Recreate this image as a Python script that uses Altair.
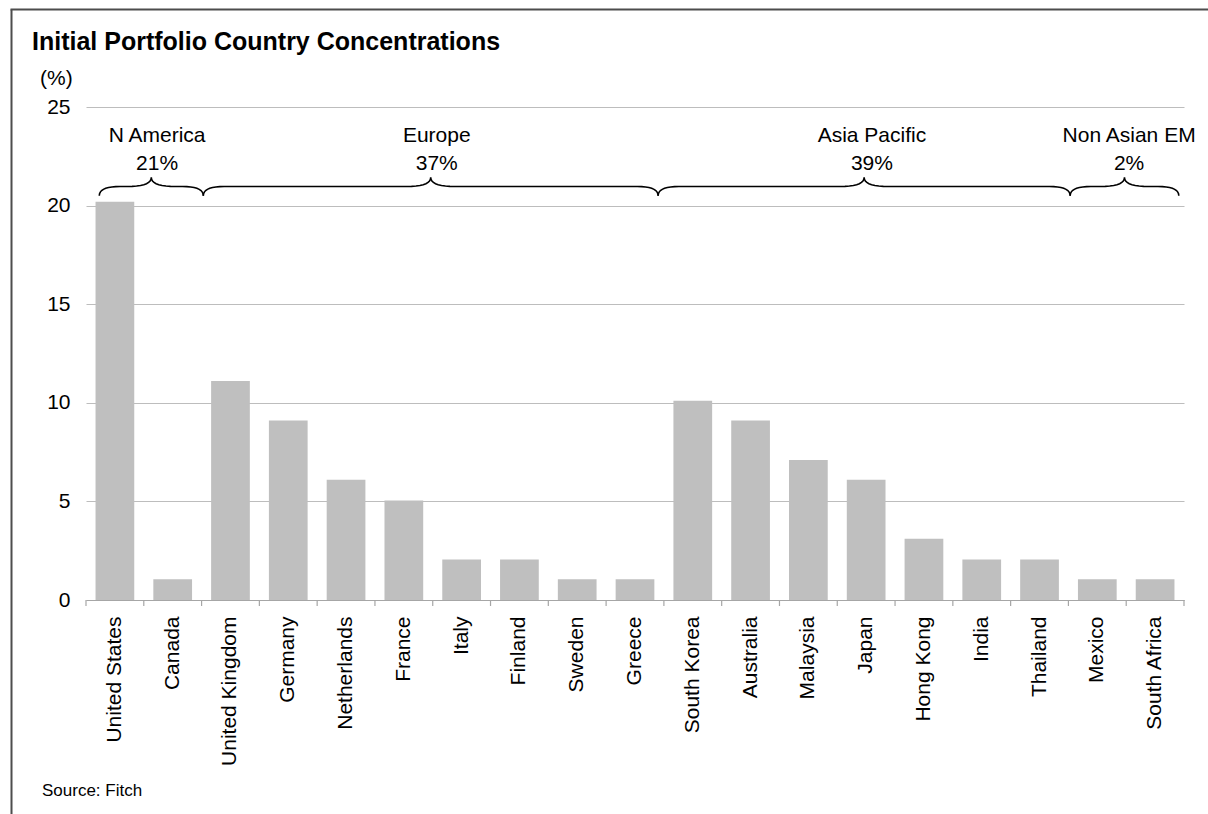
import altair as alt
import pandas as pd
import numpy as np

# ---------------- data ----------------
countries = ["United States", "Canada", "United Kingdom", "Germany", "Netherlands",
             "France", "Italy", "Finland", "Sweden", "Greece", "South Korea",
             "Australia", "Malaysia", "Japan", "Hong Kong", "India", "Thailand",
             "Mexico", "South Africa"]
values = [20.2, 1.05, 11.1, 9.1, 6.1, 5.05, 2.05, 2.05, 1.05, 1.05,
          10.1, 9.1, 7.1, 6.1, 3.1, 2.05, 2.05, 1.05, 1.05]

groups = ["N America", "Europe", "Asia Pacific", "Non Asian EM"]
group_pcts = ["21%", "37%", "39%", "2%"]
# brace extents in category-index units (0 = left edge of first band)
brace_start = [0.23, 2.03, 9.90, 17.03]
brace_end = [2.03, 9.90, 17.03, 18.91]
# label anchor positions (category-index units)
label_x = [1.23, 6.07, 13.6, 18.05]

title_text = "Initial Portfolio Country Concentrations"
unit_text = "(%)"
source_text = "Source: Fitch"
y_ticks = [0, 5, 10, 15, 20, 25]

# ---------------- styling ----------------
FONT = "Liberation Sans"
W, H = 1098, 493
BAR = "#bfbfbf"
GRID = "#bdbdbd"
AXIS = "#a6a6a6"

df = pd.DataFrame({"country": countries, "value": values})
n = len(countries)
xq = alt.Scale(domain=[0, n], nice=False, zero=False)
yscale = alt.Scale(domain=[0, 25], nice=False)

bars = alt.Chart(df).mark_bar(color=BAR).encode(
    x=alt.X("country:N", sort=countries,
            scale=alt.Scale(paddingInner=0.33, paddingOuter=0.165),
            axis=alt.Axis(title=None, labelAngle=-90, labelAlign="right",
                          labelBaseline="middle", labelFontSize=21, labelColor="black",
                          labelFont=FONT, ticks=False, labelPadding=16,
                          domainColor=AXIS, domainWidth=1.2, grid=False)),
    y=alt.Y("value:Q", scale=yscale,
            axis=alt.Axis(title=None, values=y_ticks, domain=False, ticks=False,
                          labelFontSize=21, labelColor="black", labelFont=FONT,
                          labelPadding=16, grid=True, gridColor=GRID, gridWidth=1.2)),
)

# tick marks at band boundaries
tick_df = pd.DataFrame({"pos": list(range(n + 1))})
ticks = alt.Chart(tick_df).mark_rule(color=AXIS, strokeWidth=1.2, y2Offset=6).encode(
    x=alt.X("pos:Q", scale=xq, axis=None),
    y=alt.datum(0),
    y2=alt.datum(0),
)

# braces
yE, yL, yT = 20.5, 20.97, 21.43
cE, cM = 0.36, 0.42


def quad(p0, p1, p2, k=10):
    t = np.linspace(0, 1, k)
    xs = (1 - t) ** 2 * p0[0] + 2 * (1 - t) * t * p1[0] + t ** 2 * p2[0]
    ys = (1 - t) ** 2 * p0[1] + 2 * (1 - t) * t * p1[1] + t ** 2 * p2[1]
    return list(zip(xs, ys))


rows = []
for g, s, e in zip(groups, brace_start, brace_end):
    m = (s + e) / 2
    pts = []
    pts += quad((s, yE), (s, yL), (s + cE, yL))
    pts += quad((m - cM, yL), (m, yL), (m, yT))
    pts += quad((m, yT), (m, yL), (m + cM, yL))
    pts += quad((e - cE, yL), (e, yL), (e, yE))
    for k, (bx, by) in enumerate(pts):
        rows.append({"group": g, "k": k, "bx": bx, "by": by})
brace_df = pd.DataFrame(rows)

braces = alt.Chart(brace_df).mark_line(color="black", strokeWidth=1.6).encode(
    x=alt.X("bx:Q", scale=xq, axis=None),
    y=alt.Y("by:Q", title=None),
    detail="group:N",
    order="k:Q",
)

lab_df = pd.DataFrame({"name": groups, "pct": group_pcts, "lx": label_x,
                       "y1": [23.23] * 4, "y2": [21.81] * 4})
names = alt.Chart(lab_df).mark_text(fontSize=21, font=FONT, color="black",
                                    baseline="alphabetic", align="center").encode(
    x=alt.X("lx:Q", scale=xq, axis=None), y=alt.Y("y1:Q", title=None), text="name:N")
pcts = alt.Chart(lab_df).mark_text(fontSize=21, font=FONT, color="black",
                                   baseline="alphabetic", align="center").encode(
    x=alt.X("lx:Q", scale=xq, axis=None), y=alt.Y("y2:Q", title=None), text="pct:N")

one = pd.DataFrame({"t": [title_text], "u": [unit_text], "s": [source_text]})
title = alt.Chart(one).mark_text(fontSize=25, fontWeight="bold", font=FONT, color="black",
                                 align="left", baseline="alphabetic").encode(
    x=alt.value(-54), y=alt.value(-57), text="t:N")
unit = alt.Chart(one).mark_text(fontSize=21, font=FONT, color="black",
                                align="left", baseline="alphabetic").encode(
    x=alt.value(-46), y=alt.value(-22), text="u:N")
source = alt.Chart(one).mark_text(fontSize=17, font=FONT, color="black",
                                  align="left", baseline="alphabetic").encode(
    x=alt.value(-44), y=alt.value(689), text="s:N")

frame_l = alt.Chart(one).mark_rule(color="#4d4d4d", strokeWidth=2).encode(
    x=alt.value(-74.5), y=alt.value(-97.5), y2=alt.value(720))
frame_t = alt.Chart(one).mark_rule(color="#4d4d4d", strokeWidth=2).encode(
    x=alt.value(-75.5), x2=alt.value(1130), y=alt.value(-97.5))

chart = alt.layer(bars, ticks, braces, names, pcts, title, unit, source, frame_l, frame_t).resolve_scale(
    x="independent"
).properties(
    width=W, height=H,
    padding={"left": 86, "top": 107, "right": 24, "bottom": 214},
    autosize=alt.AutoSizeParams(type="none"),
).configure(font=FONT).configure_view(stroke=None)

chart.save("out.html", embed_options={"renderer": "svg", "actions": False})
